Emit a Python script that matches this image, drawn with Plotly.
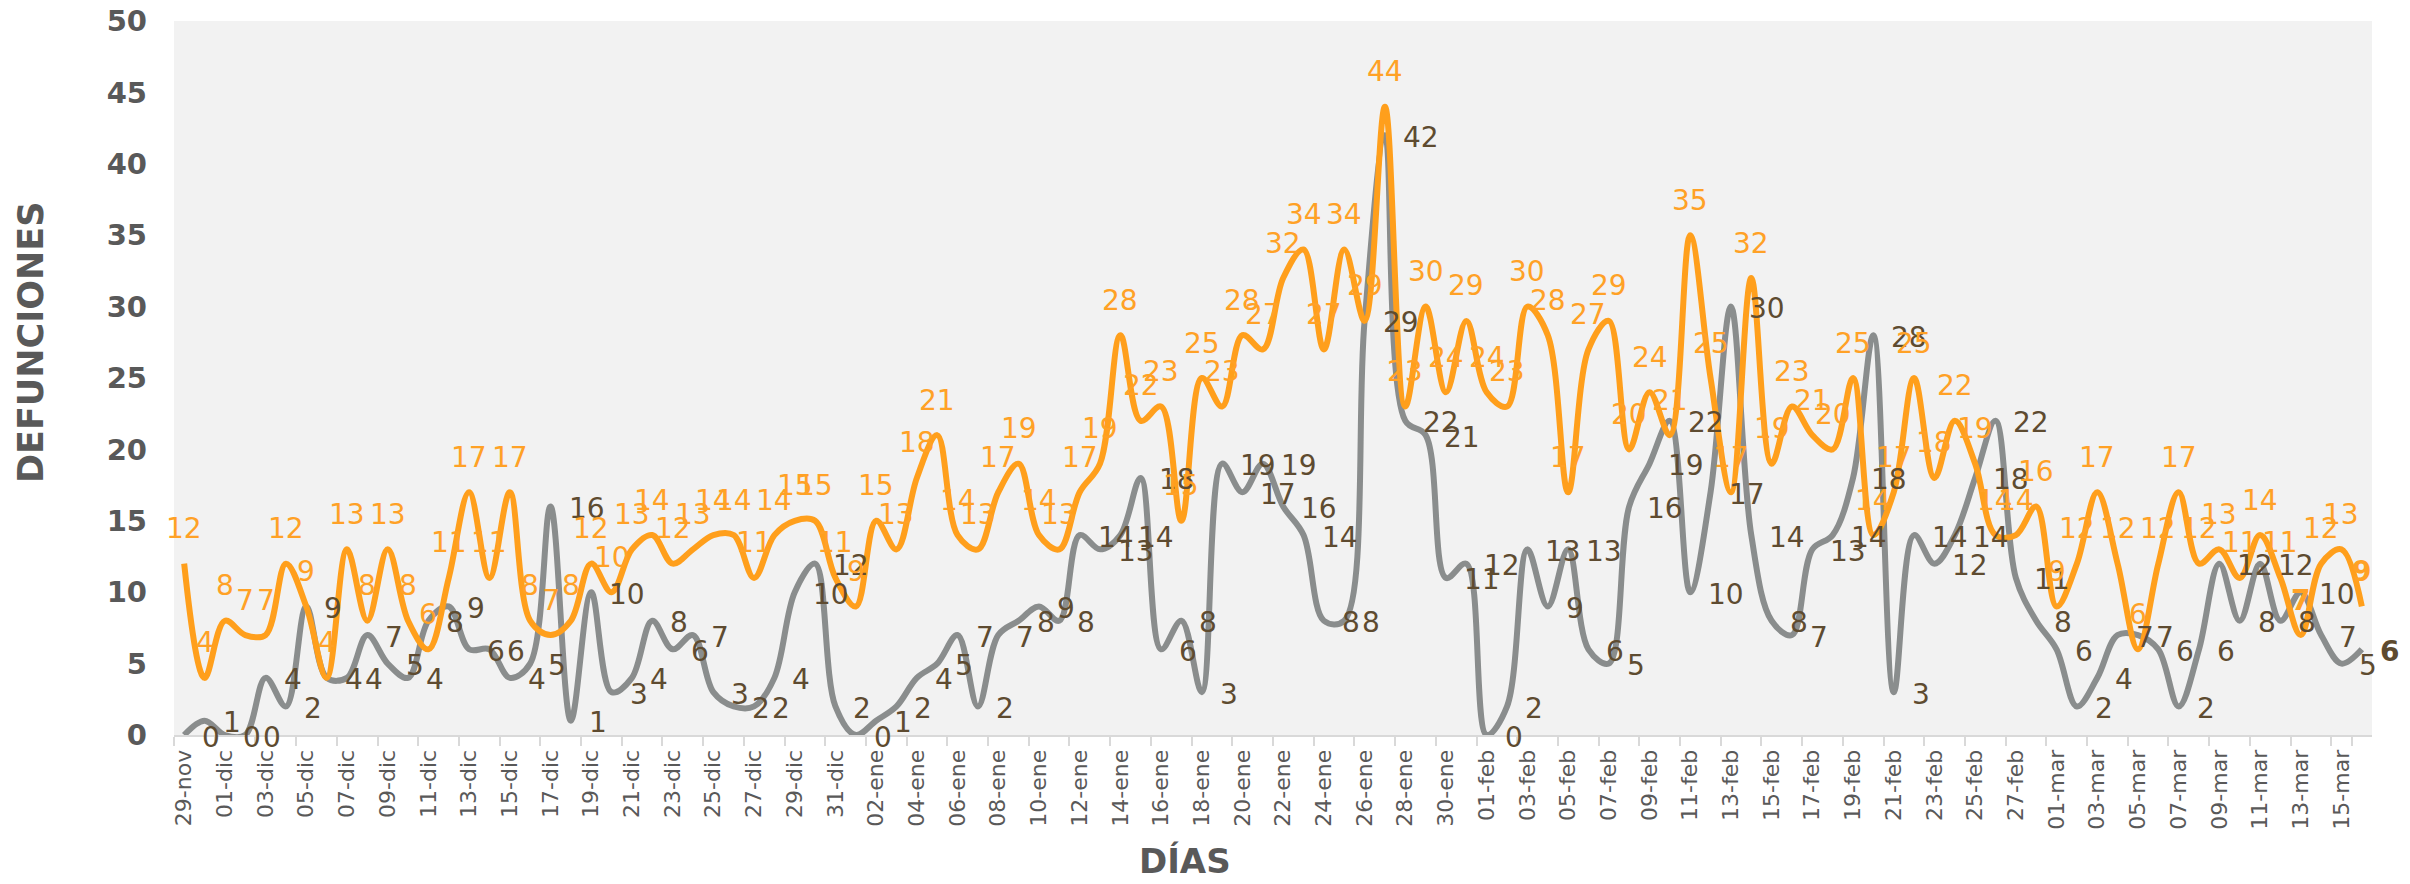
import datetime as dt
import plotly.graph_objects as go

# ---------------- data ----------------
MESES = {11: "nov", 12: "dic", 1: "ene", 2: "feb", 3: "mar"}
start = dt.date(2020, 11, 29)
n_days = 108
fechas = [(start + dt.timedelta(days=k)) for k in range(n_days)]
categorias = [f"{d.day:02d}-{MESES[d.month]}" for d in fechas]

serie_naranja = [
    12, 4, 8, 7, 7, 12, 9, 4, 13, 8, 13, 8, 6, 11, 17, 11, 17, 8, 7, 8,
    12, 10, 13, 14, 12, 13, 14, 14, 11, 14, 15, 15, 11, 9, 15, 13, 18, 21, 14, 13,
    17, 19, 14, 13, 17, 19, 28, 22, 23, 15, 25, 23, 28, 27, 32, 34, 27, 34, 29, 44,
    23, 30, 24, 29, 24, 23, 30, 28, 17, 27, 29, 20, 24, 21, 35, 25, 17, 32, 19, 23,
    21, 20, 25, 14, 17, 25, 18, 22, 19, 14, 14, 16, 9, 12, 17, 12, 6, 12, 17, 12,
    13, 11, 14, 11, 7, 12, 13, 9,
]

serie_gris = [
    0, 1, 0, 0, 4, 2, 9, 4, 4, 7, 5, 4, 8, 9, 6, 6, 4, 5, 16, 1,
    10, 3, 4, 8, 6, 7, 3, 2, 2, 4, 10, 12, 2, 0, 1, 2, 4, 5, 7, 2,
    7, 8, 9, 8, 14, 13, 14, 18, 6, 8, 3, 19, 17, 19, 16, 14, 8, 8, 29, 42,
    22, 21, 11, 12, 0, 2, 13, 9, 13, 6, 5, 16, 19, 22, 10, 17, 30, 14, 8, 7,
    13, 14, 18, 28, 3, 14, 12, 14, 18, 22, 11, 8, 6, 2, 4, 7, 7, 6, 2, 6,
    12, 8, 12, 8, 10, 7, 5, 6,
]

y_ticks = list(range(0, 51, 5))
resaltados_naranja = {104, 107}   # labels drawn in bold
resaltados_gris = {107}

# ---------------- style ----------------
NARANJA = "#FF9F1C"
NARANJA_TXT = "#FFA126"
GRIS = "#8A8D8D"
GRIS_TXT = "#5E4B30"
EJE_TXT = "#595959"
FONT = "DejaVu Sans"

# page body has an 8px default margin: figure is sized/offset to fit the window
BODY = 8
W, H = 2410 - 2 * BODY, 884 - 2 * BODY

fig = go.Figure()
fig.add_trace(go.Scatter(
    x=categorias, y=serie_gris, mode="lines", name="gris",
    line=dict(color=GRIS, width=6, shape="spline", smoothing=1.0),
    hoverinfo="x+y",
))
fig.add_trace(go.Scatter(
    x=categorias, y=serie_naranja, mode="lines", name="naranja",
    line=dict(color=NARANJA, width=6, shape="spline", smoothing=1.0),
    hoverinfo="x+y",
))

annotations = []
for i, (c, v) in enumerate(zip(categorias, serie_gris)):
    txt = f"<b>{v}</b>" if i in resaltados_gris else str(v)
    annotations.append(dict(
        x=c, y=v, xref="x", yref="y", text=txt, showarrow=False,
        xanchor="left", yanchor="middle", xshift=16, yshift=-2,
        font=dict(family=FONT, size=28, color=GRIS_TXT),
    ))
for i, (c, v) in enumerate(zip(categorias, serie_naranja)):
    txt = f"<b>{v}</b>" if i in resaltados_naranja else str(v)
    annotations.append(dict(
        x=c, y=v, xref="x", yref="y", text=txt, showarrow=False,
        xanchor="center", yanchor="middle", yshift=35,
        font=dict(family=FONT, size=28, color=NARANJA_TXT),
    ))

annotations.append(dict(
    text="<b>DEFUNCIONES</b>", xref="paper", yref="paper",
    x=(31 - 174) / 2198, y=(735 - 343) / 714, textangle=-90,
    showarrow=False, xanchor="center", yanchor="middle",
    font=dict(family=FONT, size=35, color=EJE_TXT),
))
annotations.append(dict(
    text="<b>DÍAS</b>", xref="paper", yref="paper",
    x=(1185 - 174) / 2198, y=(735 - 861) / 714,
    showarrow=False, xanchor="center", yanchor="middle",
    font=dict(family=FONT, size=34, color=EJE_TXT),
))

fig.update_layout(
    width=W, height=H,
    margin=dict(l=174 - BODY, r=2410 - 2372 - BODY, t=21 - BODY, b=884 - 735 - BODY,
                autoexpand=False),
    paper_bgcolor="white", plot_bgcolor="#F2F2F2",
    showlegend=False,
    annotations=annotations,
    font=dict(family=FONT, color=EJE_TXT),
)
fig.update_xaxes(
    type="category", range=[-0.5, n_days - 0.5],
    tickmode="array", tickvals=categorias[::2], ticktext=categorias[::2],
    tickangle=-90, tickfont=dict(family=FONT, size=22, color=EJE_TXT),
    ticks="outside", tickson="boundaries", ticklen=9, tickwidth=2, tickcolor="#D9D9D9",
    showline=True, linecolor="#D9D9D9", linewidth=2,
    showgrid=False, zeroline=False, ticklabelstandoff=4, automargin=False,
)
fig.update_yaxes(
    range=[0, 50], tickmode="array", tickvals=y_ticks,
    tickfont=dict(family=FONT, size=29, color=EJE_TXT, weight="bold"),
    showgrid=False, zeroline=False, showline=False, ticks="",
    ticklabelstandoff=26, ticklabeloverflow="allow", automargin=False,
)

fig.write_html("out.html")
